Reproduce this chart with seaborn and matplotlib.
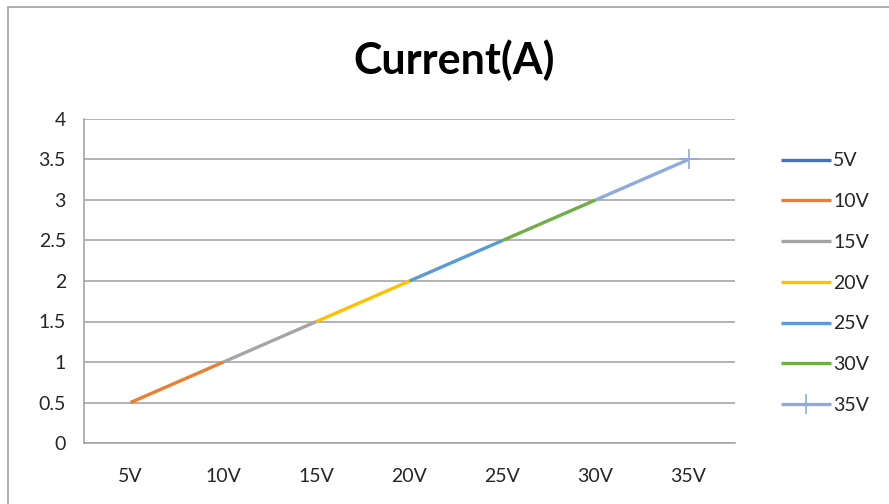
import matplotlib
matplotlib.use('Agg')
import matplotlib.pyplot as plt
import seaborn as sns
import pandas as pd
from matplotlib.patches import Rectangle

# values
voltages = ['5V', '10V', '15V', '20V', '25V', '30V', '35V']
currents = [0.5, 1.0, 1.5, 2.0, 2.5, 3.0, 3.5]
colors = ['#4472C4', '#ED7D31', '#A5A5A5', '#FFC000', '#5B9BD5', '#70AD47', '#8FAADC']

# each series runs from the previous voltage to its own voltage (5V is a single point)
rows = []
for i, name in enumerate(voltages):
    for j in range(max(i - 1, 0), i + 1):
        rows.append({'series': name, 'pos': j, 'current': currents[j]})
df = pd.DataFrame(rows)

sns.set_theme(style="white")
plt.rcParams['font.family'] = ['Lato', 'DejaVu Sans']

fig = plt.figure(figsize=(8.89, 5.04), dpi=100)
ax = fig.add_axes([84 / 889, 1 - 443 / 504, (735 - 84) / 889, (443 - 119) / 504])

for name, col in zip(voltages, colors):
    sub = df[df['series'] == name]
    kw = {}
    if name == '35V':
        kw = dict(marker='+', markersize=14, markeredgewidth=1.2, markeredgecolor=col,
                  markevery=[len(sub) - 1])
    sns.lineplot(data=sub, x='pos', y='current', color=col, linewidth=2.4, label=name,
                 ax=ax, solid_capstyle='butt', **kw)

grid_c = '#A6A6A6'
ax.set_xlim(-0.5, len(voltages) - 0.5)
ax.set_ylim(0, 4)
ax.set_yticks([0, 0.5, 1, 1.5, 2, 2.5, 3, 3.5, 4])
ax.set_yticklabels(['0', '0.5', '1', '1.5', '2', '2.5', '3', '3.5', '4'])
ax.set_xticks(range(len(voltages)))
ax.set_xticklabels(voltages)
ax.set_xticks([k - 0.5 for k in range(len(voltages) + 1)], minor=True)
ax.yaxis.grid(True, color=grid_c, linewidth=1.2)
ax.set_axisbelow(True)
ax.tick_params(axis='x', which='major', length=0, pad=18, labelsize=14, colors='#262626')
ax.tick_params(axis='x', which='minor', length=8, width=1, color=grid_c, direction='out')
ax.tick_params(axis='y', length=8, width=1, color=grid_c, direction='out', pad=5,
               labelsize=14, colors='#262626')
for s in ['top', 'right']:
    ax.spines[s].set_visible(False)
for s in ['left', 'bottom']:
    ax.spines[s].set_color(grid_c)
    ax.spines[s].set_linewidth(1.2)
ax.set_xlabel('')
ax.set_ylabel('')

fig.text(454 / 889, 1 - 60 / 504, 'Current(A)', ha='center', va='center',
         fontsize=31, fontweight='bold', color='black')

leg = ax.legend(loc='upper left', bbox_to_anchor=(763 / 889, 1 - 135 / 504),
                bbox_transform=fig.transFigure, frameon=False, fontsize=14,
                handlelength=2.6, handletextpad=0.1, labelspacing=1.22, numpoints=1)
for t in leg.get_texts():
    t.set_color('#262626')

fig.patches.append(Rectangle((8 / 889, -0.1), 1.2, 1.1 - 7 / 504, transform=fig.transFigure,
                             fill=False, edgecolor='#A0A0A0', linewidth=1.2, zorder=0))

fig.savefig('out.png', dpi=100)
